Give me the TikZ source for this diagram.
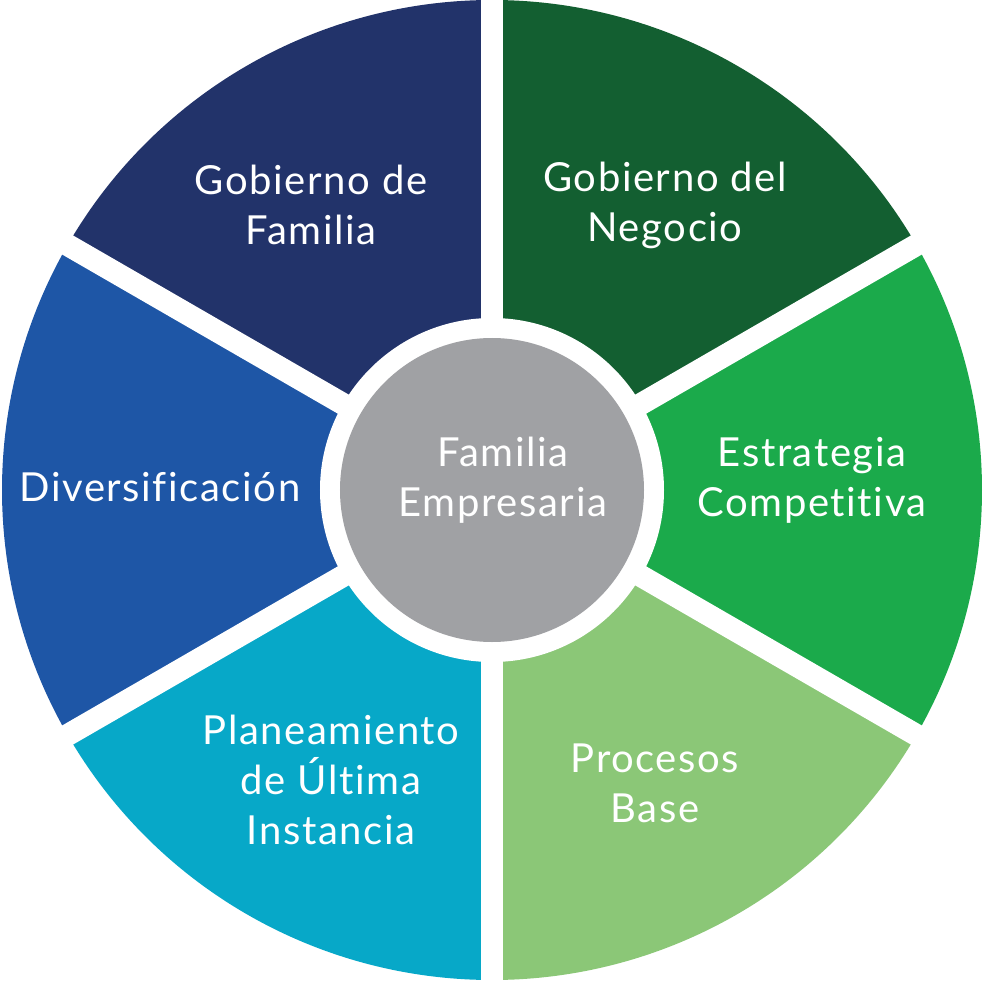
\documentclass[tikz,border=0pt]{standalone}
\usepackage{fontspec}
\setmainfont[Ligatures=NoCommon,LetterSpace=4]{Lato}
\usepackage{tikz}
\definecolor{navy}{HTML}{22336A}
\definecolor{darkgreen}{HTML}{135F31}
\definecolor{midgreen}{HTML}{1BAA4B}
\definecolor{lightgreen}{HTML}{8BC777}
\definecolor{cyanblue}{HTML}{07A8C8}
\definecolor{royal}{HTML}{1E56A6}
\definecolor{centergray}{HTML}{A0A1A4}
\begin{document}
\begin{tikzpicture}[x=1pt,y=1pt,
  label/.style={text=white,align=center,font=\fontsize{40}{50}\selectfont}]
\useasboundingbox (-492,-490) rectangle (492,490);
% objects at depth 50: sectors
\path[fill=darkgreen] (0,0) -- (90:490) arc (90:30:490) -- cycle;
\path[fill=midgreen] (0,0) -- (30:490) arc (30:-30:490) -- cycle;
\path[fill=lightgreen] (0,0) -- (-30:490) arc (-30:-90:490) -- cycle;
\path[fill=cyanblue] (0,0) -- (-90:490) arc (-90:-150:490) -- cycle;
\path[fill=royal] (0,0) -- (210:490) arc (210:150:490) -- cycle;
\path[fill=navy] (0,0) -- (150:490) arc (150:90:490) -- cycle;
% objects at depth 40: gaps
\foreach \a in {90,30,-30,-90,150,210}
  \path[draw=white,line width=22] (0,0) -- (\a:500);
\path[fill=white] (0,0) circle (172);
% objects at depth 30: hub
\path[fill=centergray] (0,0) circle (152);
% objects at depth 20: labels
\node[label] (hub) at (11,10) {Familia\\Empresaria};
\node[label] (gobfam) at (-181,285) {Gobierno de\\Familia};
\node[label] (gobneg) at (173,285) {Gobierno del\\Negocio};
\node[label] (estrat) at (320,10) {Estrategia\\Competitiva};
\node[label] (procesos) at (163,-293) {Procesos\\Base};
\node[label] (planea) at (-161,-290) {Planeamiento\\de Última\\Instancia};
\node[label] (divers) at (-332,3) {Diversificación};
\end{tikzpicture}
\end{document}
